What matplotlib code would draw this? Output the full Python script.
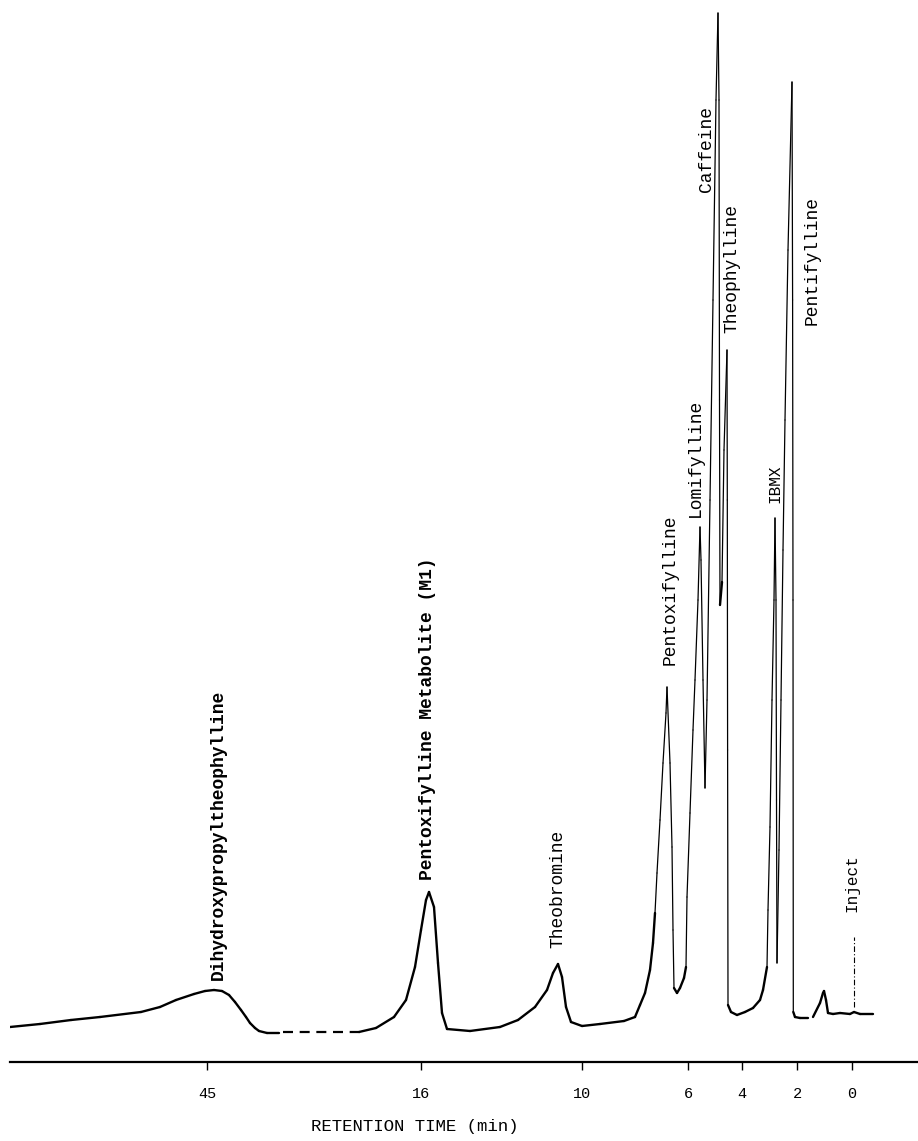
import numpy as np
import matplotlib
matplotlib.use("Agg")
import matplotlib.pyplot as plt
from matplotlib.collections import LineCollection

# ---------------- data ----------------
# chart position along the recorder paper (same units as tick positions)
trace_x = [10, 40, 71, 100, 141, 160, 176, 194, 205, 214, 222, 229, 235, 241, 246, 250, 255, 259, 267, 279]
trace_y = [35, 38, 42, 45, 50, 55, 62, 68, 71, 72, 71, 67, 60, 52, 45, 39, 34, 31, 29, 29]

gap_x = [283, 362]          # dashed (interrupted) baseline
gap_y = [30, 30]

main_x = [359, 376, 394, 406, 415, 421, 426, 429, 434, 438, 442, 447, 470, 500, 518, 535, 547,
          553, 558, 562, 566, 571, 582, 600, 624, 635, 640, 645, 650, 653, 655, 657, 660, 663,
          666, 667, 670, 672, 673, 674, 677, 680, 684, 686, 687, 690, 693, 695, 698, 700,
          701, 703, 705, 707, 710, 713, 716, 718, 719, 719.5, 720, 722, 724, 727, 727.3,
          727.6, 728, 731, 737, 745, 753, 760, 763, 767, 768, 770, 772, 774, 775, 776,
          776.5, 777, 779, 781, 783, 785, 788, 792, 792.6, 793, 793.3, 795, 800, 808]
main_y = [30, 34, 45, 62, 95, 132, 162, 170, 155, 99, 49, 33, 31, 35, 42, 55, 72,
          89, 98, 85, 55, 40, 36, 38, 41, 45, 57, 69, 92, 119, 149, 189, 242, 299,
          349, 375, 299, 215, 132, 74, 69, 74, 84, 95, 165, 249, 332, 382, 462, 535,
          502, 382, 274, 362, 562, 762, 962, 1049, 962, 662, 457, 480, 612, 712, 562,
          312, 57, 50, 47, 50, 54, 62, 72, 95, 152, 235, 362, 462, 544, 462,
          262, 99, 212, 362, 512, 642, 812, 980, 762, 462, 50, 45, 44, 44]

tail_x = [813, 820, 823, 824, 826, 828, 833, 840, 850, 854, 860, 873]
tail_y = [45, 59, 69, 71, 62, 49, 48, 49, 48, 50, 48, 48]

inject_pos = 854
inject_span = [55, 125]

tick_pos = [207, 421, 582, 688, 742, 797, 852]
tick_labels = ["45", "16", "10", "6", "4", "2", "0"]

peak_labels = ["Dihydroxypropyltheophylline", "Pentoxifylline Metabolite (M1)", "Theobromine",
               "Pentoxifylline", "Lomifylline", "Caffeine", "Theophylline", "IBMX",
               "Pentifylline", "Inject"]
label_x = [218, 428, 558, 670, 695, 707, 732, 775, 812, 852]
label_y = [82, 182, 114, 397, 545, 870, 729, 559, 737, 150]
label_size = [13, 13, 13, 13, 13, 13, 13, 11.5, 13, 11.5]
label_weight = ["bold", "bold", "normal", "normal", "normal", "normal", "normal", "normal", "normal", "normal"]

# ---------------- figure ----------------
W, H = 918, 1141
fig = plt.figure(figsize=(W / 100, H / 100), dpi=100)
ax = fig.add_axes([10 / W, 1 - 1062 / H, 908 / W, 1062 / H])
ax.set_xlim(10, 918)
ax.set_ylim(0, 1062)


def draw_trace(xs, ys):
    xs = np.asarray(xs, float)
    ys = np.asarray(ys, float)
    pts = np.column_stack([xs, ys])
    segs = np.stack([pts[:-1], pts[1:]], axis=1)
    dx = np.maximum(np.abs(np.diff(xs)), 1e-6)
    slope = np.abs(np.diff(ys)) / dx
    widths = np.where(slope > 16, 0.9, 1.7)
    ax.add_collection(LineCollection(segs, colors="black", linewidths=widths,
                                     capstyle="round", joinstyle="round"))


draw_trace(trace_x, trace_y)
draw_trace(main_x, main_y)
draw_trace(tail_x, tail_y)
ax.plot(gap_x, gap_y, color="black", lw=1.6, linestyle=(0, (4.5, 3)))
ax.vlines(inject_pos, inject_span[0], inject_span[1], color="black", lw=0.8,
          linestyles=(0, (5, 2, 1, 2)))

for t, x, y, s, w in zip(peak_labels, label_x, label_y, label_size, label_weight):
    ax.text(x, y, t, rotation=90, ha="center", va="bottom", fontsize=s,
            family="Liberation Mono", fontweight=w, color="black")

for side in ["left", "right", "top"]:
    ax.spines[side].set_visible(False)
ax.spines["bottom"].set_linewidth(1.6)
ax.set_yticks([])
ax.set_xticks(tick_pos)
ax.set_xticklabels(tick_labels, family="Liberation Mono", fontsize=11)
ax.tick_params(axis="x", direction="out", length=6, width=1.0, pad=12)
ax.set_xlabel("RETENTION TIME (min)", family="Liberation Mono", fontsize=12.5)
ax.xaxis.set_label_coords((415 - 10) / 908, -57 / 1062)

fig.savefig("out.png", dpi=100)
